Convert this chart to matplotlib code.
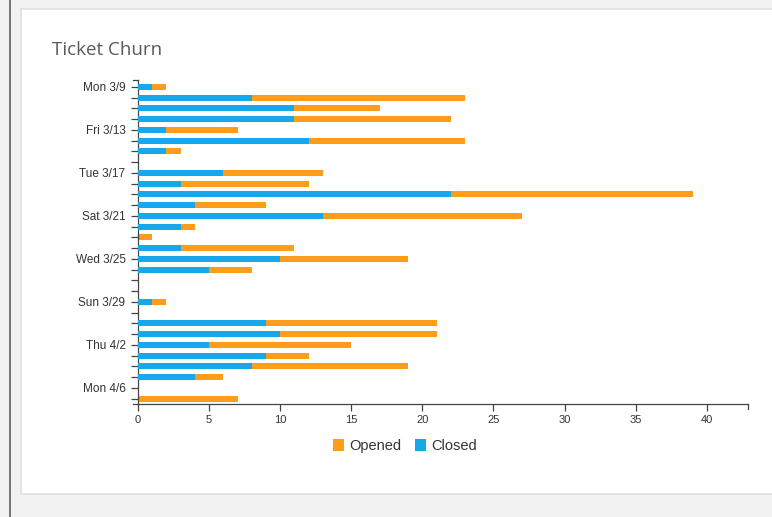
import matplotlib.pyplot as plt
from matplotlib.patches import Rectangle
import numpy as np

plt.rcParams["font.family"] = ["Liberation Sans", "DejaVu Sans"]

days = ["Mon 3/9", "Tue 3/10", "Wed 3/11", "Thu 3/12", "Fri 3/13", "Sat 3/14", "Sun 3/15",
        "Mon 3/16", "Tue 3/17", "Wed 3/18", "Thu 3/19", "Fri 3/20", "Sat 3/21", "Sun 3/22",
        "Mon 3/23", "Tue 3/24", "Wed 3/25", "Thu 3/26", "Fri 3/27", "Sat 3/28", "Sun 3/29",
        "Mon 3/30", "Tue 3/31", "Wed 4/1", "Thu 4/2", "Fri 4/3", "Sat 4/4", "Sun 4/5",
        "Mon 4/6", "Tue 4/7"]
opened = [2, 23, 17, 22, 7, 23, 3, 0, 13, 12, 39, 9, 27, 4, 1, 11, 19, 8, 0, 0, 2,
          0, 21, 21, 15, 12, 19, 6, 0, 7]
closed = [1, 8, 11, 11, 2, 12, 2, 0, 6, 3, 22, 4, 13, 3, 0, 3, 10, 5, 0, 0, 1,
          0, 9, 10, 5, 9, 8, 4, 0, 0]

orange = "#ff9c1a"
blue = "#17a8eb"
axis_col = "#444444"

fig = plt.figure(figsize=(7.72, 5.17), dpi=100)
fig.patch.set_facecolor("#f2f2f2")

# card behind the chart
fig.add_artist(Rectangle((21 / 772, 1 - 494 / 517), 1.0, (494 - 9) / 517,
                         transform=fig.transFigure, facecolor="white",
                         edgecolor="#e0e0e0", linewidth=1.2, zorder=0))
fig.add_artist(Rectangle((8.5 / 772, 0), 2.5 / 772, 1, transform=fig.transFigure,
                         facecolor="#777777", edgecolor="none", zorder=0))

fig.text(52 / 772, 1 - 50 / 517, "Ticket Churn", fontsize=13.5, color="#5a5a5a",
         family="Open Sans", va="center", ha="left")

ax = fig.add_axes([138 / 772, 1 - 404 / 517, 610 / 772, 324 / 517])
ax.set_facecolor("none")

y = np.arange(len(days))
ax.barh(y, opened, height=0.56, color=orange, label="Opened", zorder=2)
ax.barh(y, closed, height=0.56, color=blue, label="Closed", zorder=3)

ax.set_ylim(29.5, -0.65)
ax.set_xlim(0, 42.9)
ax.set_yticks(y)
ax.set_yticklabels([d if i % 4 == 0 else "" for i, d in enumerate(days)])
ax.set_xticks(np.arange(0, 41, 5))

for s in ["top", "right"]:
    ax.spines[s].set_visible(False)
for s in ["left", "bottom"]:
    ax.spines[s].set_color(axis_col)
    ax.spines[s].set_linewidth(0.9)

ax.tick_params(axis="y", length=5, width=0.9, color=axis_col, labelsize=8.5,
               labelcolor="#333333", pad=4)
ax.tick_params(axis="x", length=5, width=0.9, color=axis_col, labelsize=8,
               labelcolor="#333333", pad=3)

# end ticks of the axes
ax.plot([0, -0.35], [29.5, 29.5], color=axis_col, lw=0.9, clip_on=False)
ax.plot([0, -0.35], [-0.65, -0.65], color=axis_col, lw=0.9, clip_on=False)
ax.plot([42.9, 42.9], [29.5, 30.0], color=axis_col, lw=0.9, clip_on=False)

leg = fig.legend(loc="center", bbox_to_anchor=(405 / 772, 1 - 446 / 517), ncol=2,
                 frameon=False, fontsize=10.5, handlelength=0.8, handleheight=0.8,
                 handletextpad=0.35, columnspacing=0.9)
for t in leg.get_texts():
    t.set_color("#333333")

fig.savefig("out.png", dpi=100, facecolor=fig.get_facecolor())
